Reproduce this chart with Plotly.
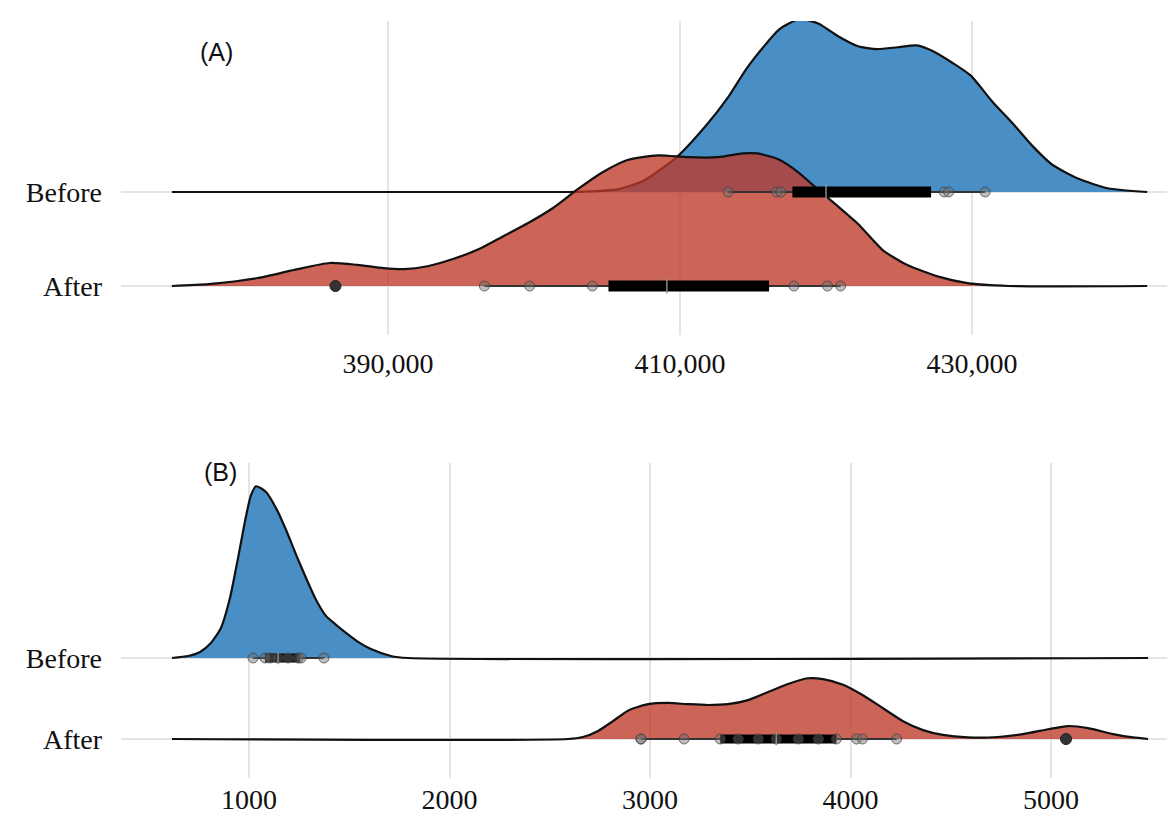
import plotly.graph_objects as go

# ---------------- Panel A data (values) ----------------
a_before_x = [375200, 402300, 404400, 405800, 407500, 409700, 411800, 413300, 414500, 415700,
              416800, 418200, 419500, 420800, 422200, 423500, 424900, 426200, 427300, 428700,
              429900, 431400, 432900, 434200, 435500, 437300, 439300, 442000]
a_before_h = [0, 0, 0.01, 0.03, 0.12, 0.36, 0.71, 1.01, 1.30, 1.54,
              1.73, 1.84, 1.79, 1.66, 1.55, 1.52, 1.54, 1.56, 1.50, 1.37,
              1.24, 0.96, 0.71, 0.48, 0.29, 0.14, 0.04, 0]
a_after_x = [375200, 377700, 381100, 383800, 386000, 387900, 389700, 391100, 392700, 394500,
             396200, 397900, 399600, 401300, 403000, 404700, 406400, 408500, 410500, 412600,
             414300, 415300, 416700, 418100, 419500, 420800, 422200, 423900, 425600, 427700,
             429700, 432500, 442000]
a_after_h = [0, 0.02, 0.085, 0.18, 0.245, 0.225, 0.19, 0.18, 0.21, 0.29,
             0.39, 0.53, 0.67, 0.83, 1.03, 1.21, 1.34, 1.39, 1.37, 1.37,
             1.41, 1.41, 1.35, 1.21, 1.02, 0.85, 0.66, 0.38, 0.22, 0.10,
             0.03, 0, 0]
a_before_pts = [413300, 416600, 416900, 428100, 428400, 430900]
a_after_pts = [396600, 399700, 404000, 417800, 420100, 421000]
a_after_out = [386400]
a_before_box = dict(lo=413300, q1=417700, med=420000, q3=427200, hi=430900)
a_after_box = dict(lo=396600, q1=405100, med=409100, q3=416100, hi=421000)
a_ticks = [390000, 410000, 430000]
a_ticktext = ["390,000", "410,000", "430,000"]

# ---------------- Panel B data (values) ----------------
b_before_x = [616, 696, 756, 810, 860, 905, 945, 985, 1010, 1035, 1085, 1135, 1185, 1234,
              1284, 1334, 1384, 1434, 1479, 1544, 1608, 1708, 1793, 5484]
b_before_h = [0, 0.025, 0.075, 0.185, 0.37, 0.74, 1.23, 1.75, 2.01, 2.12, 2.05, 1.85, 1.58, 1.28,
              0.99, 0.72, 0.52, 0.41, 0.32, 0.20, 0.11, 0.025, 0, 0]
b_after_x = [616, 2591, 2666, 2741, 2815, 2890, 2990, 3090, 3190, 3289, 3389, 3489, 3589, 3688,
             3788, 3863, 3963, 4062, 4162, 4262, 4362, 4461, 4586, 4736, 4860, 4985, 5085, 5185,
             5309, 5409, 5484]
b_after_h = [0, 0, 0.025, 0.10, 0.22, 0.35, 0.43, 0.445, 0.43, 0.42, 0.43, 0.48, 0.58, 0.68,
             0.75, 0.74, 0.67, 0.54, 0.38, 0.22, 0.11, 0.05, 0.02, 0.025, 0.06, 0.12, 0.16, 0.135,
             0.06, 0.02, 0]
b_before_pts = [1020, 1080, 1105, 1145, 1195, 1245, 1260, 1374]
b_after_pts = [2955, 2955, 3170, 3350, 3440, 3540, 3630, 3740, 3840, 3930, 4030, 4060, 4230]
b_after_out = [5075]
b_before_box = dict(lo=1020, q1=1080, med=1145, q3=1255, hi=1374)
b_after_box = dict(lo=2955, q1=3350, med=3630, q3=3930, hi=4230)
b_ticks = [1000, 2000, 3000, 4000, 5000]
b_ticktext = ["1000", "2000", "3000", "4000", "5000"]

categories = ["After", "Before"]
BLUE = "rgb(73,143,198)"
RED = "rgba(191,56,41,0.78)"

fig = go.Figure()


def ridge(xs, hs, base, fill, xa, ya):
    px = list(xs) + list(xs)[::-1]
    py = [base + h for h in hs] + [base] * len(xs)
    fig.add_trace(go.Scatter(x=px, y=py, fill="toself", fillcolor=fill, mode="lines",
                             line=dict(width=0), hoverinfo="skip", showlegend=False,
                             xaxis=xa, yaxis=ya))
    fig.add_trace(go.Scatter(x=xs, y=[base + h for h in hs], mode="lines",
                             line=dict(color="#111111", width=2.2, shape="spline", smoothing=0.6),
                             hoverinfo="skip", showlegend=False, xaxis=xa, yaxis=ya))


def boxrow(box, pts, outs, base, xa, ya, thick):
    fig.add_trace(go.Scatter(x=[box["lo"], box["hi"]], y=[base, base], mode="lines",
                             line=dict(color="#333333", width=2), showlegend=False,
                             hoverinfo="skip", xaxis=xa, yaxis=ya))
    fig.add_trace(go.Scatter(x=[box["q1"], box["q3"]], y=[base, base], mode="lines",
                             line=dict(color="#000000", width=thick), showlegend=False,
                             hoverinfo="skip", xaxis=xa, yaxis=ya))
    fig.add_trace(go.Scatter(x=pts, y=[base] * len(pts), mode="markers",
                             marker=dict(size=10, color="rgba(110,110,110,0.45)",
                                         line=dict(color="rgba(60,60,60,0.7)", width=1)),
                             showlegend=False, hoverinfo="skip", xaxis=xa, yaxis=ya))
    fig.add_trace(go.Scatter(x=[box["med"]], y=[base], mode="markers",
                             marker=dict(symbol="line-ns", size=thick,
                                         line=dict(color="rgba(150,150,150,0.9)", width=1.5)),
                             showlegend=False, hoverinfo="skip", xaxis=xa, yaxis=ya))
    if outs:
        fig.add_trace(go.Scatter(x=outs, y=[base] * len(outs), mode="markers",
                                 marker=dict(size=11, color="#333333",
                                             line=dict(color="#222222", width=1)),
                                 showlegend=False, hoverinfo="skip", xaxis=xa, yaxis=ya))


# Panel A
ridge(a_before_x, a_before_h, 1, BLUE, "x", "y")
ridge(a_after_x, a_after_h, 0, RED, "x", "y")
boxrow(a_before_box, a_before_pts, [], 1, "x", "y", 11)
boxrow(a_after_box, a_after_pts, a_after_out, 0, "x", "y", 11)

# Panel B
ridge(b_before_x, b_before_h, 1, BLUE, "x2", "y2")
ridge(b_after_x, b_after_h, 0, RED, "x2", "y2")
boxrow(b_before_box, b_before_pts, [], 1, "x2", "y2", 9)
boxrow(b_after_box, b_after_pts, b_after_out, 0, "x2", "y2", 9)

W, H = 1175, 819
xdom = [113 / W, 1165 / W]
tickfont = dict(family="Liberation Serif", size=28, color="#111111")
grid = "rgb(228,228,228)"

# panel B geometry in pixels
b_top, b_bot, b_after_px, b_step = 455, 770, 731, 81

fig.update_layout(
    width=W, height=H, margin=dict(l=0, r=0, t=0, b=0),
    paper_bgcolor="white", plot_bgcolor="white", showlegend=False,
    xaxis=dict(domain=xdom, range=[371712, 443767], tickvals=a_ticks, ticktext=a_ticktext,
               showgrid=True, gridcolor=grid, gridwidth=1.5, zeroline=False, showline=False,
               ticks="", tickfont=tickfont, ticklabelstandoff=9, anchor="y"),
    yaxis=dict(domain=[1 - 327 / H, 1 - 13 / H], range=[-0.521, 2.819], tickvals=[0, 1],
               ticktext=categories, showgrid=True, gridcolor=grid, gridwidth=1.5,
               zeroline=False, showline=False, ticks="", tickfont=tickfont,
               ticklabelstandoff=18, anchor="x"),
    xaxis2=dict(domain=xdom, range=[361.6, 5608.5], tickvals=b_ticks, ticktext=b_ticktext,
                showgrid=True, gridcolor=grid, gridwidth=1.5, zeroline=False, showline=False,
                ticks="", tickfont=tickfont, ticklabelstandoff=2, anchor="y2"),
    yaxis2=dict(domain=[1 - b_bot / H, 1 - b_top / H],
                range=[-(b_bot - b_after_px) / b_step, (b_after_px - b_top) / b_step],
                tickvals=[0, 1], ticktext=categories, showgrid=True, gridcolor=grid,
                gridwidth=1.5, zeroline=False, showline=False, ticks="", tickfont=tickfont,
                ticklabelstandoff=18, anchor="x2"),
    annotations=[
        dict(text="(A)", x=208 / W, y=1 - 44 / H, xref="paper", yref="paper", showarrow=False,
             font=dict(family="Liberation Sans", size=25, color="#111111"),
             xanchor="center", yanchor="middle"),
        dict(text="(B)", x=212 / W, y=1 - 464 / H, xref="paper", yref="paper", showarrow=False,
             font=dict(family="Liberation Sans", size=25, color="#111111"),
             xanchor="center", yanchor="middle"),
    ],
)

fig.write_html("out.html")
